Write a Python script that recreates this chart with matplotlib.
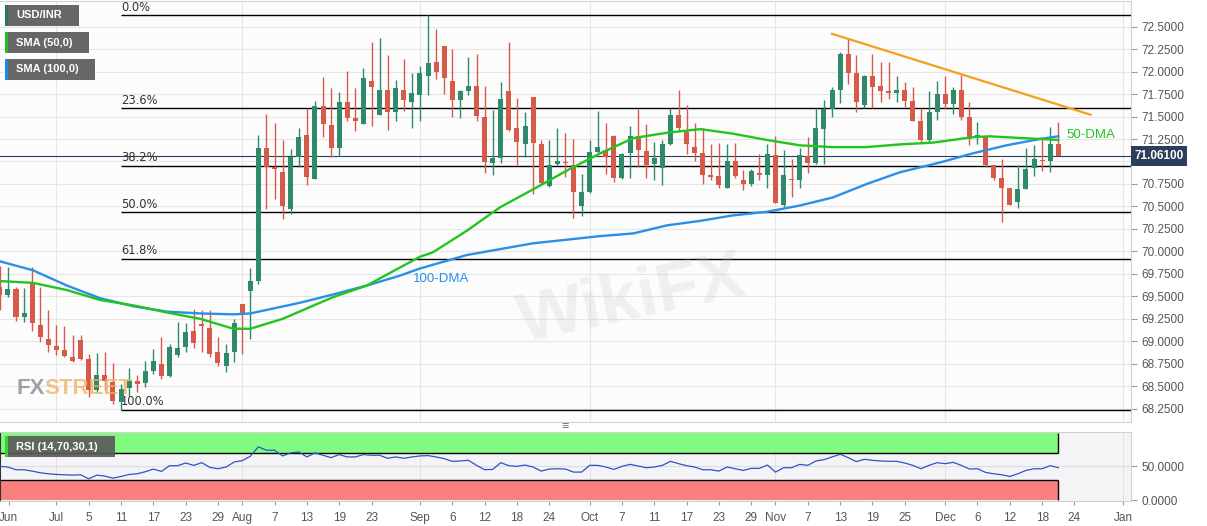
import numpy as np
import matplotlib.pyplot as plt
from matplotlib.patches import Rectangle

plt.rcParams['font.family'] = ['Liberation Sans', 'DejaVu Sans']

# daily USD/INR candles, 20 Jun 2019 .. 20 Dec 2019 (weekday index)
opens = [69.60, 69.51, 69.58, 69.27, 69.65, 69.18, 69.03, 68.95, 68.90, 68.83,
         69.02, 68.80, 68.46, 68.62, 68.55, 68.32, 68.48, 68.56, 68.54, 68.67,
         68.75, 68.61, 68.85, 68.94, 69.12, 69.19, 69.15, 68.88, 68.73, 68.88,
         69.41, 69.56, 69.67, 71.15, 70.94, 70.88, 70.47, 71.05, 71.29, 70.80,
         71.62, 71.41, 71.15, 71.66, 71.48, 71.42, 71.90, 71.52, 71.80, 71.55,
         71.79, 71.66, 71.74, 71.95, 72.11, 72.29, 71.89, 71.68, 71.78, 71.84,
         71.50, 70.98, 71.04, 71.78, 71.37, 71.20, 71.72, 71.20, 70.73, 70.97,
         70.99, 70.96, 70.51, 70.66, 71.11, 71.13, 71.28, 70.82, 71.09, 71.28,
         71.12, 70.97, 70.93, 71.20, 71.52, 71.33, 71.16, 71.09, 70.85, 70.84,
         70.71, 71.01, 70.79, 70.75, 70.87, 70.85, 71.07, 70.52, 70.81, 70.79,
         71.06, 70.98, 71.36, 71.58, 71.80, 72.20, 71.98, 71.63, 71.95, 71.84,
         71.78, 71.76, 71.79, 71.67, 71.45, 71.24, 71.55, 71.75, 71.64, 71.79,
         71.50, 71.28, 71.28, 70.96, 70.82, 70.71, 70.55, 70.69, 70.93, 71.02,
         71.00, 71.19]
highs = [69.84, 69.83, 69.60, 69.59, 69.83, 69.60, 69.35, 69.18, 69.17, 69.07,
         69.07, 68.86, 68.87, 68.88, 68.76, 68.53, 68.70, 68.62, 68.78, 68.91,
         69.05, 68.97, 69.22, 69.20, 69.36, 69.35, 69.35, 69.05, 68.97, 69.25,
         69.42, 69.81, 71.30, 71.53, 71.43, 71.24, 71.14, 71.37, 71.59, 71.67,
         71.94, 71.82, 71.77, 72.01, 71.82, 72.04, 72.33, 72.37, 72.18, 71.91,
         72.14, 71.98, 72.06, 72.63, 72.47, 72.29, 72.25, 71.79, 72.16, 72.19,
         71.84, 71.57, 71.88, 72.33, 71.71, 71.55, 71.72, 71.24, 71.24, 71.37,
         71.32, 71.25, 70.86, 71.24, 71.56, 71.43, 71.30, 71.10, 71.39, 71.58,
         71.42, 71.22, 71.24, 71.60, 71.80, 71.63, 71.43, 71.37, 71.20, 71.21,
         71.19, 71.21, 70.90, 70.92, 71.08, 71.20, 71.28, 71.13, 71.03, 71.15,
         71.27, 71.59, 71.68, 71.83, 72.22, 72.36, 72.18, 71.96, 72.19, 72.11,
         72.11, 71.95, 71.88, 71.83, 71.59, 71.78, 71.89, 71.95, 71.83, 71.96,
         71.66, 71.44, 71.28, 70.96, 71.03, 70.71, 70.96, 71.15, 71.18, 71.27,
         71.38, 71.44]
lows = [69.35, 69.49, 69.23, 69.22, 69.12, 68.99, 68.88, 68.85, 68.83, 68.77,
        68.79, 68.38, 68.44, 68.46, 68.30, 68.24, 68.39, 68.44, 68.49, 68.64,
        68.58, 68.60, 68.83, 68.88, 68.93, 68.88, 68.83, 68.72, 68.66, 68.77,
        68.86, 69.03, 69.64, 70.47, 70.58, 70.36, 70.42, 70.94, 70.74, 70.80,
        71.27, 71.05, 71.06, 71.45, 71.34, 71.42, 71.40, 71.52, 71.35, 71.45,
        71.56, 71.37, 71.45, 71.74, 71.92, 71.75, 71.49, 71.48, 71.74, 71.45,
        70.87, 70.85, 70.98, 71.34, 70.96, 71.05, 70.64, 70.74, 70.72, 70.95,
        70.83, 70.37, 70.39, 70.65, 71.08, 70.86, 70.77, 70.80, 70.82, 70.94,
        70.82, 70.79, 70.74, 71.18, 71.34, 71.08, 71.01, 70.75, 70.79, 70.71,
        70.71, 70.82, 70.68, 70.73, 70.79, 70.70, 70.54, 70.49, 70.61, 70.70,
        70.87, 70.97, 70.97, 71.49, 71.65, 71.86, 71.55, 71.59, 71.59, 71.66,
        71.69, 71.66, 71.61, 71.45, 71.22, 71.22, 71.46, 71.58, 71.53, 71.46,
        71.18, 71.20, 70.94, 70.79, 70.33, 70.52, 70.48, 70.69, 70.84, 70.89,
        70.88, 71.06]
closes = [69.52, 69.58, 69.27, 69.31, 69.20, 69.05, 68.96, 68.90, 68.84, 68.78,
          68.80, 68.46, 68.62, 68.56, 68.34, 68.47, 68.56, 68.53, 68.67, 68.78,
          68.61, 68.94, 68.93, 69.10, 68.98, 69.17, 68.86, 68.76, 68.87, 69.20,
          69.31, 69.67, 71.15, 70.94, 70.92, 70.50, 71.05, 71.27, 70.83, 71.62,
          71.42, 71.15, 71.66, 71.48, 71.45, 71.93, 71.83, 71.80, 71.55, 71.82,
          71.68, 71.76, 71.98, 72.10, 71.99, 71.93, 71.68, 71.78, 71.84, 71.51,
          70.99, 71.04, 71.69, 71.35, 71.22, 71.39, 71.21, 70.76, 70.96, 71.01,
          70.98, 70.66, 70.66, 71.11, 71.16, 71.05, 70.82, 71.08, 71.28, 71.13,
          70.96, 71.04, 71.19, 71.52, 71.37, 71.19, 71.09, 70.85, 70.83, 70.74,
          71.01, 70.84, 70.75, 70.89, 70.85, 71.08, 70.54, 70.85, 70.79, 71.07,
          70.98, 71.37, 71.58, 71.80, 72.20, 71.98, 71.66, 71.95, 71.83, 71.78,
          71.76, 71.79, 71.67, 71.45, 71.24, 71.55, 71.75, 71.64, 71.79, 71.50,
          71.25, 71.30, 70.96, 70.82, 70.71, 70.52, 70.69, 70.92, 71.03, 71.00,
          71.19, 71.061]

rsi = [50, 49, 45, 45, 43, 40.5, 39, 38, 37.5, 37,
       37.5, 31.5, 37, 35.5, 32.5, 35, 38, 39, 42, 46,
       42.5, 51, 51, 55, 51.5, 55.5, 48.5, 46.5, 49, 56.5,
       58.5, 65, 79, 74, 74, 65.5, 70, 71.5, 64, 70,
       66.5, 63, 67.5, 64, 64, 67.5, 66.5, 66.5, 62, 64,
       62, 64, 65.5, 66, 64, 61.5, 57.5, 58, 59, 51.5,
       45, 45.5, 55.5, 51, 50, 52, 49, 43, 46, 46.5,
       46, 41.5, 41.5, 51.5, 51.5, 49, 45.5, 50, 53, 50.5,
       48, 49, 51.5, 57.5, 54, 51, 49, 45, 45, 43,
       49, 46.5, 44, 47, 47, 52, 41.5, 48, 48, 53,
       51.5, 58, 60, 64, 68, 63, 57, 60.5, 59, 58,
       57.5, 57.5, 55, 51.5, 46.5, 51.5, 55.5, 54, 56, 51.5,
       46, 46.5, 41, 39, 37.5, 35, 39, 44, 46.5, 46.5,
       51, 48]

# moving averages
sma50_x = [0, 4.1, 8.3, 12.4, 16.5, 20.7, 24.8, 28.9, 31, 35, 41.2, 45.4, 49.5,
           52, 53.6, 57.8, 61.9, 66, 70.2, 74.3, 78.4, 82.6, 86.7, 90.7, 94.9,
           99, 103, 107.2, 111.4, 115.5, 120.4, 122.5, 126.6, 131]
sma50_y = [69.67, 69.65, 69.57, 69.46, 69.40, 69.32, 69.25, 69.14, 69.14, 69.25,
           69.49, 69.62, 69.82, 69.94, 69.99, 70.23, 70.49, 70.69, 70.90, 71.09,
           71.26, 71.32, 71.36, 71.31, 71.24, 71.18, 71.16, 71.16, 71.19, 71.21,
           71.27, 71.28, 71.26, 71.24]
sma100_x = [0, 4.1, 8.3, 12.4, 16.5, 20.7, 24.8, 28.9, 31, 37.2, 41.2, 45.4,
            49.5, 52, 57.8, 66, 74.3, 78.4, 82.6, 86.7, 90.7, 94.9, 99, 103.1,
            107.3, 111.4, 116.4, 120.4, 124.6, 128.7, 131]
sma100_y = [69.89, 69.79, 69.62, 69.48, 69.39, 69.33, 69.31, 69.30, 69.31, 69.43,
            69.52, 69.62, 69.73, 69.81, 69.96, 70.09, 70.17, 70.20, 70.29, 70.34,
            70.40, 70.44, 70.51, 70.60, 70.75, 70.88, 70.99, 71.09, 71.18, 71.25,
            71.28]

trend_x = [103, 135]
trend_y = [72.42, 71.52]

fib_low, fib_high = 68.24, 72.63
fib_ratios = [0.0, 0.236, 0.382, 0.5, 0.618, 1.0]
fib_start = 15
last_price = 71.061

tick_pos = [1.1, 7, 11, 15, 19, 23, 27, 30, 34, 38, 42, 46, 52, 56, 60, 64, 68,
            73, 77, 81, 85, 89, 93, 96, 100, 104, 108, 112, 117, 121, 125, 129,
            133, 139]
tick_lab = ['Jun', 'Jul', '5', '11', '17', '23', '29', 'Aug', '7', '13', '19', '23',
            'Sep', '6', '12', '18', '24', 'Oct', '7', '11', '17', '23', '29', 'Nov',
            '7', '13', '19', '25', 'Dec', '6', '12', '18', '24', 'Jan']
month_pos = [7, 30, 52, 73, 96, 117, 139]
price_ticks = np.arange(68.25, 72.51, 0.25)

W, H = 1207, 526
fig = plt.figure(figsize=(W / 100, H / 100), dpi=100)
fig.patch.set_facecolor('white')
ax = fig.add_axes([0, 1 - 422 / H, 1131 / W, 421 / H])
rx = fig.add_axes([0, 1 - 500.7 / H, 1131 / W, 69 / H])
XL = (0.02, 140.0)

# ---- main panel
ax.set_facecolor('#fcfcfc')
x = np.arange(len(closes))
o = np.array(opens); c = np.array(closes)
up = c >= o
col = np.where(up, '#2f8a6c', '#d65a4a')
ax.vlines(x, lows, highs, color=col, lw=1, zorder=3)
body = np.maximum(np.abs(c - o), 0.01)
ax.bar(x, body, bottom=np.minimum(o, c), width=0.62, color=col, zorder=4)

ax.plot(sma100_x, sma100_y, color='#2b8fe6', lw=1.7, zorder=5)
ax.plot(sma50_x, sma50_y, color='#22c41e', lw=1.7, zorder=5)
ax.plot(trend_x, trend_y, color='#f5a019', lw=1.6, zorder=5)

for r in fib_ratios:
    lvl = fib_high - r * (fib_high - fib_low)
    ax.hlines(lvl, fib_start, XL[1], color='black', lw=1, zorder=2)
    ax.annotate('%.1f%%' % (r * 100), (fib_start, lvl), xytext=(0, 1),
                textcoords='offset points', fontsize=8.3, color='#333333',
                family='DejaVu Sans', va='bottom', ha='left')

ax.axhline(last_price, color='#2c3e5c', lw=0.8, zorder=2)
ax.text(1.003, last_price, '%.5f' % last_price, transform=ax.get_yaxis_transform(),
        va='center', ha='left', color='white', fontsize=8.5, fontweight='bold',
        bbox=dict(boxstyle='square,pad=0.3', fc='#2c3e5c', ec='none'),
        zorder=10, clip_on=False)

ax.text(132.0, 71.30, '50-DMA', color='#22c41e', fontsize=9.5, va='center')
ax.text(51.1, 69.69, '100-DMA', color='#2b8fe6', fontsize=9.5, va='center')

ax.set_xlim(*XL)
ax.set_ylim(68.1026, 72.785)
ax.yaxis.tick_right()
ax.set_yticks(price_ticks)
# the 71.0000 label sits under the last-price box
ax.set_yticklabels(['' if abs(v - 71.0) < 1e-6 else '%.4f' % v for v in price_ticks])
ax.tick_params(axis='y', labelsize=8.5, labelcolor='#555555', color='#999999',
               length=4)
ax.set_xticks([])
ax.grid(axis='y', color='#e6e6e6', lw=0.8)
for m in month_pos:
    ax.axvline(m, color='#e6e6e6', lw=0.8, zorder=0)
ax.spines['left'].set_visible(False)
for s in ['top', 'right', 'bottom']:
    ax.spines[s].set_color('#d0d0d0')

# watermarks
fig.text(632 / W, 1 - 300 / H, 'WikiFX', fontsize=50, fontweight='bold',
         color='#c9bfbf', alpha=0.22, rotation=12, ha='center', va='center')
fig.text(16 / W, 1 - 388 / H, 'FX', fontsize=16, fontweight='bold',
         color='#8a8a8a', alpha=0.8, va='center')
fig.text(44 / W, 1 - 388 / H, 'STREET', fontsize=16, fontweight='bold',
         color='#eeb060', alpha=0.75, va='center')

# ---- RSI panel
rx.set_facecolor('#f4f4f6')
end = len(rsi) - 1
rx.fill_between([XL[0], end], 70, 99, color='#80fa80', lw=0, zorder=1)
rx.fill_between([XL[0], end], 0, 30, color='#fa8080', lw=0, zorder=1)
rx.hlines([70, 30], XL[0], end, color='black', lw=1, zorder=2)
rx.vlines(end, 70, 99, color='black', lw=1, zorder=2)
rx.vlines(end, 0, 30, color='black', lw=1, zorder=2)
rx.axhline(50, color='#dddddd', lw=0.8, zorder=0)
for m in month_pos:
    rx.axvline(m, color='#e2e2e2', lw=0.8, zorder=0)
rx.plot(np.arange(len(rsi)), rsi, color='#3052c8', lw=0.9, zorder=3)
rx.set_xlim(*XL)
rx.set_ylim(-1, 101.5)
rx.yaxis.tick_right()
rx.set_yticks([0, 50])
rx.set_yticklabels(['0.0000', '50.0000'])
rx.tick_params(axis='y', labelsize=8.5, labelcolor='#555555', color='#999999',
               length=4)
rx.set_xticks(tick_pos)
rx.set_xticklabels(tick_lab)
rx.tick_params(axis='x', labelsize=8.5, labelcolor='#555555', color='#999999',
               length=3, pad=5)
rx.spines['left'].set_color('#333333')
for s in ['top', 'right', 'bottom']:
    rx.spines[s].set_color('#d0d0d0')

# separator handle
fig.text(565 / W, 1 - 427 / H, '\u2261', fontsize=9, color='#777777',
         ha='center', va='center')


# legend tags
def tag(px, py, pw, ph, label, stripe):
    fig.add_artist(Rectangle((px / W, 1 - (py + ph) / H), pw / W, ph / H,
                             transform=fig.transFigure, fc='#5a5a5a', ec='none',
                             alpha=0.92, zorder=20))
    fig.add_artist(Rectangle((px / W, 1 - (py + ph) / H), 3 / W, ph / H,
                             transform=fig.transFigure, fc=stripe, ec='none',
                             zorder=21))
    fig.text((px + 11) / W, 1 - (py + ph / 2) / H, label, color='white',
             fontsize=8, fontweight='bold', va='center', ha='left', zorder=22)


tag(5, 5, 74, 21, 'USD/INR', '#2a7560')
tag(5, 32, 84, 21, 'SMA (50,0)', '#21c121')
tag(5, 59, 90, 21, 'SMA (100,0)', '#1e88e5')
tag(5, 436, 110, 21, 'RSI (14,70,30,1)', '#33d633')

fig.savefig('out.png', dpi=100)
